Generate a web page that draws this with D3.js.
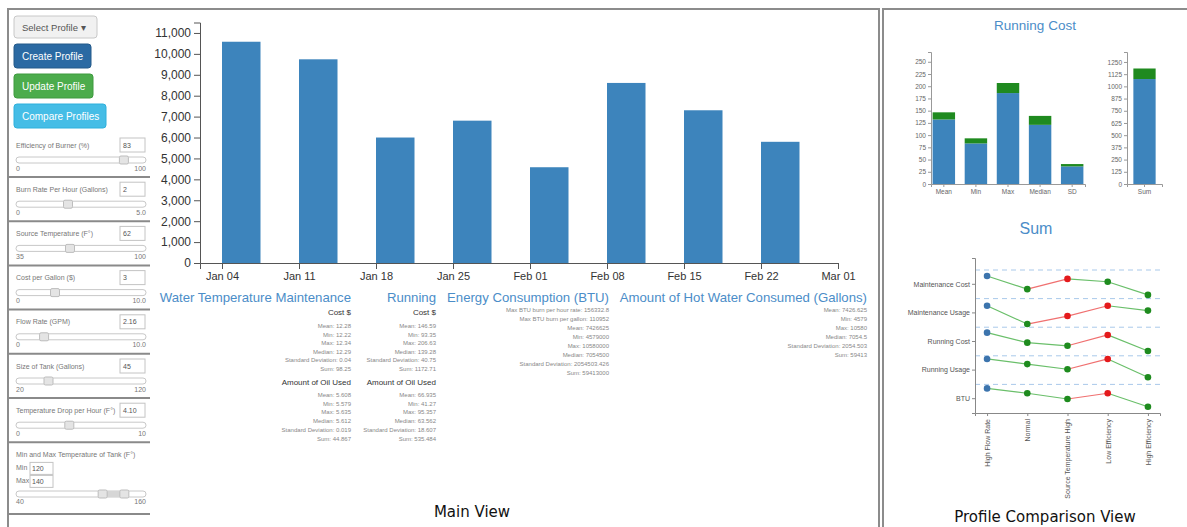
<!DOCTYPE html>
<html><head><meta charset="utf-8">
<script src="https://cdn.jsdelivr.net/npm/d3@7"></script>
<style>
body{margin:0;background:#fff;}
svg{display:block;font-family:"Liberation Sans",Arial,sans-serif;}
</style>
</head><body>
<svg id="c" width="1187" height="527"></svg>
<script>
// ---------- data ----------
const weeks = ["2015-01-04","2015-01-11","2015-01-18","2015-01-25","2015-02-01","2015-02-08","2015-02-15","2015-02-22"];
const hotWater = [10580, 9740, 6000, 6806, 4579, 8610, 7303, 5795];
const mainYTicks = [0,1000,2000,3000,4000,5000,6000,7000,8000,9000,10000,11000];

const statTitles = ["Water Temperature Maintenance","Running","Energy Consumption (BTU)","Amount of Hot Water Consumed (Gallons)"];
const waterCost = ["Mean: 12.28","Min: 12.22","Max: 12.34","Median: 12.29","Standard Deviation: 0.04","Sum: 98.25"];
const waterOil = ["Mean: 5.608","Min: 5.579","Max: 5.635","Median: 5.612","Standard Deviation: 0.019","Sum: 44.867"];
const runningCost = ["Mean: 146.59","Min: 93.35","Max: 206.63","Median: 139.28","Standard Deviation: 40.75","Sum: 1172.71"];
const runningOil = ["Mean: 66.935","Min: 41.27","Max: 95.357","Median: 63.562","Standard Deviation: 18.607","Sum: 535.484"];
const energyStats = ["Max BTU burn per hour rate: 156332.8","Max BTU burn per gallon: 110952","Mean: 7426625","Min: 4579000","Max: 10580000","Median: 7054500","Standard Deviation: 2054503.426","Sum: 59413000"];
const hotWaterStats = ["Mean: 7426.625","Min: 4579","Max: 10580","Median: 7054.5","Standard Deviation: 2054.503","Sum: 59413"];

const buttonLabels = ["Select Profile \u25BE","Create Profile","Update Profile","Compare Profiles"];
const sliderLabels = ["Efficiency of Burner (%)","Burn Rate Per Hour (Gallons)","Source Temperature (F\u00B0)","Cost per Gallon ($)","Flow Rate (GPM)","Size of Tank (Gallons)","Temperature Drop per Hour (F\u00B0)"];
const sliderValues = [83, 2, 62, 3, 2.16, 45, 4.10];
const sliderInputs = ["83","2","62","3","2.16","45","4.10"];
const sliderMin = [0, 0, 35, 0, 0, 20, 0];
const sliderMax = [100, 5, 100, 10, 10, 120, 10];
const sliderMinLabels = ["0","0","35","0","0","20","0"];
const sliderMaxLabels = ["100","5.0","100","10.0","10.0","120","10"];
const tankTemps = [120, 140];
const tankRange = [40, 160];

const costCats = ["Mean","Min","Max","Median","SD"];
const costBase = [132, 83, 186, 121, 36];
const costTop = [14.6, 10.4, 20.6, 18.3, 4.8];
const costTicks = [0,25,50,75,100,125,150,175,200,225,250];
const sumCats = ["Sum"];
const sumBase = [1075];
const sumTop = [108];
const sumTicks = [0,125,250,375,500,625,750,875,1000,1125,1250];

const profiles = ["High Flow Rate","Normal","Source Temperature High","Low Efficiency","High Efficiency"];
const metrics = ["Maintenance Cost","Maintenance Usage","Running Cost","Running Usage","BTU"];
const maintCostScore = [0.79, 0.33, 0.69, 0.59, 0.13];
const maintUsageScore = [0.75, 0.11, 0.39, 0.75, 0.58];
const runCostScore = [0.81, 0.46, 0.35, 0.73, 0.17];
const runUsageScore = [0.89, 0.71, 0.53, 0.89, 0.25];
const btuScore = [0.86, 0.69, 0.49, 0.69, 0.22];

// ---------- setup ----------
const svg = d3.select("#c");
const BLUE = "#3d84bc", GREEN = "#1f8a1f", TITLE = "#4b8dc8";

// frames
svg.append("path").attr("d","M8,527 L8,9 L879,9 L879,527").attr("fill","none").attr("stroke","#8c8c8c").attr("stroke-width",2);
svg.append("path").attr("d","M883,527 L883,9 L1187,9").attr("fill","none").attr("stroke","#8c8c8c").attr("stroke-width",2);

// ---------- left control panel ----------
const btnSpec = [
  {y:16, h:22, w:83, fill:"#f1f1f1", stroke:"#c8c8c8", text:"#555"},
  {y:44, h:24, w:77, fill:"#2b6aa3", stroke:"#245a8a", text:"#fff"},
  {y:74, h:24, w:79, fill:"#4cac4c", stroke:"#3e9a3e", text:"#fff"},
  {y:104, h:24, w:92, fill:"#45bde6", stroke:"#2fb0dc", text:"#fff"}
];
const btn = svg.append("g").selectAll("g").data(buttonLabels).join("g")
  .attr("transform",(d,i)=>`translate(14,${btnSpec[i].y})`);
btn.append("rect").attr("width",(d,i)=>btnSpec[i].w).attr("height",(d,i)=>btnSpec[i].h)
  .attr("rx",3).attr("fill",(d,i)=>btnSpec[i].fill).attr("stroke",(d,i)=>btnSpec[i].stroke);
btn.append("text").attr("x",8).attr("y",(d,i)=>btnSpec[i].h/2+3.5).attr("font-size",(d,i)=>i===0?9.5:10)
  .attr("fill",(d,i)=>btnSpec[i].text).text(d=>d);

const panel = svg.append("g").attr("font-size",7).attr("fill","#777");
sliderLabels.forEach((lab,i)=>{
  const L = 145 + i*44.2;
  const s = d3.scaleLinear().domain([sliderMin[i], sliderMax[i]]).range([16,146]);
  panel.append("text").attr("x",16).attr("y",L+2.5).text(lab);
  panel.append("rect").attr("x",120).attr("y",L-7).attr("width",25).attr("height",14).attr("fill","#fff").attr("stroke","#c4c4c4");
  panel.append("text").attr("x",123).attr("y",L+2.5).attr("fill","#555").text(sliderInputs[i]);
  panel.append("rect").attr("x",16).attr("y",L+12).attr("width",130).attr("height",6).attr("rx",3).attr("fill","#fff").attr("stroke","#c8c8c8");
  panel.append("rect").attr("x",s(sliderValues[i])-4.5).attr("y",L+11).attr("width",9).attr("height",8).attr("rx",1.5).attr("fill","#e4e4e4").attr("stroke","#bdbdbd");
  panel.append("text").attr("x",16).attr("y",L+25.5).text(sliderMinLabels[i]);
  panel.append("text").attr("x",146).attr("y",L+25.5).attr("text-anchor","end").text(sliderMaxLabels[i]);
  panel.append("line").attr("x1",8).attr("x2",150).attr("y1",L+32).attr("y2",L+32).attr("stroke","#8a8a8a").attr("stroke-width",2);
});
{
  const L = 454.4;
  const s = d3.scaleLinear().domain(tankRange).range([16,146]);
  panel.append("text").attr("x",16).attr("y",L+2.5).text("Min and Max Temperature of Tank (F\u00B0)");
  ["Min","Max"].forEach((t,j)=>{
    const yy = L + 8 + j*13;
    panel.append("text").attr("x",16).attr("y",yy+8).text(t);
    panel.append("rect").attr("x",30).attr("y",yy).attr("width",23).attr("height",12).attr("fill","#fff").attr("stroke","#c4c4c4");
    panel.append("text").attr("x",32).attr("y",yy+8.5).attr("fill","#555").text(tankTemps[j]);
  });
  const ty = 494;
  panel.append("rect").attr("x",16).attr("y",ty-3).attr("width",130).attr("height",6).attr("rx",3).attr("fill","#fff").attr("stroke","#c8c8c8");
  panel.append("rect").attr("x",s(tankTemps[0])).attr("y",ty-3).attr("width",s(tankTemps[1])-s(tankTemps[0])).attr("height",6).attr("fill","#d6d6d6");
  tankTemps.forEach(v=>{
    panel.append("rect").attr("x",s(v)-4.5).attr("y",ty-4).attr("width",9).attr("height",8).attr("rx",1.5).attr("fill","#e4e4e4").attr("stroke","#bdbdbd");
  });
  panel.append("text").attr("x",16).attr("y",503.5).text(tankRange[0]);
  panel.append("text").attr("x",146).attr("y",503.5).attr("text-anchor","end").text(tankRange[1]);
  panel.append("line").attr("x1",8).attr("x2",150).attr("y1",514).attr("y2",514).attr("stroke","#8a8a8a").attr("stroke-width",2);
}

// ---------- main bar chart ----------
const parse = d3.timeParse("%Y-%m-%d");
const dates = weeks.map(parse);
const x = d3.scaleTime().domain([parse("2015-01-02"), parse("2015-03-01")]).range([200, 838]);
const y = d3.scaleLinear().domain([0, 11500]).range([263, 22.5]);

svg.append("g").selectAll("rect").data(hotWater).join("rect")
  .attr("x",(d,i)=>x(dates[i]))
  .attr("width",(d,i)=>x(d3.timeHour.offset(dates[i],84)) - x(dates[i]))
  .attr("y",d=>y(d)).attr("height",d=>y(0)-y(d)).attr("fill",BLUE);

const gy = svg.append("g").attr("transform","translate(200,0)")
  .call(d3.axisLeft(y).tickValues(mainYTicks).tickFormat(d3.format(",")).tickSize(6).tickPadding(3));
gy.selectAll("text").attr("font-size",12).attr("fill","#333").attr("font-family","Liberation Sans, Arial, sans-serif");
const gx = svg.append("g").attr("transform","translate(0,263)")
  .call(d3.axisBottom(x).ticks(d3.timeWeek.every(1)).tickFormat(d3.timeFormat("%b %d")).tickSize(6).tickPadding(3));
gx.selectAll("text").attr("font-size",11).attr("fill","#333").attr("font-family","Liberation Sans, Arial, sans-serif");
[gx,gy].forEach(g=>{g.select(".domain").attr("stroke","#555"); g.selectAll(".tick line").attr("stroke","#555");});

// ---------- stats ----------
const colRight = [351, 436, 609, 867];
const stats = svg.append("g");
statTitles.forEach((t,i)=>{
  stats.append("text").attr("x",colRight[i]).attr("y",302).attr("text-anchor","end")
    .attr("font-size",13.2).attr("fill",TITLE).text(t);
});
function subHead(xr, yy, t){ stats.append("text").attr("x",xr).attr("y",yy).attr("text-anchor","end").attr("font-size",8).attr("fill","#333").text(t); }
function lines(xr, y0, step, arr){
  stats.append("g").selectAll("text").data(arr).join("text")
    .attr("x",xr).attr("y",(d,i)=>y0+i*step).attr("text-anchor","end")
    .attr("font-size",6).attr("fill","#888").text(d=>d);
}
subHead(colRight[0],315,"Cost $"); lines(colRight[0],328,8.6,waterCost);
subHead(colRight[0],385,"Amount of Oil Used"); lines(colRight[0],397,8.7,waterOil);
subHead(colRight[1],315,"Cost $"); lines(colRight[1],328,8.6,runningCost);
subHead(colRight[1],385,"Amount of Oil Used"); lines(colRight[1],397,8.7,runningOil);
lines(colRight[2],312,9,energyStats);
lines(colRight[3],312,9,hotWaterStats);

svg.append("text").attr("x",472).attr("y",517).attr("text-anchor","middle")
  .attr("font-family","DejaVu Sans, sans-serif").attr("font-size",15).attr("fill","#111").text("Main View");
svg.append("text").attr("x",1045).attr("y",522).attr("text-anchor","middle")
  .attr("font-family","DejaVu Sans, sans-serif").attr("font-size",15).attr("fill","#111").text("Profile Comparison View");

// ---------- right: Running Cost ----------
svg.append("text").attr("x",1035).attr("y",30).attr("text-anchor","middle").attr("font-size",13.5).attr("fill",TITLE).text("Running Cost");

function stacked(cats, base, top, ticks, yMax, x0, x1){
  const xb = d3.scaleBand().domain(cats).range([x0,x1]).paddingInner(0.3).paddingOuter(cats.length>1?0.05:0.2);
  const yb = d3.scaleLinear().domain([0,yMax]).range([184,52]);
  const g = svg.append("g");
  g.selectAll(".b").data(base).join("rect").attr("x",(d,i)=>xb(cats[i])).attr("width",xb.bandwidth())
    .attr("y",d=>yb(d)).attr("height",d=>yb(0)-yb(d)).attr("fill",BLUE);
  g.selectAll(".t").data(top).join("rect").attr("x",(d,i)=>xb(cats[i])).attr("width",xb.bandwidth())
    .attr("y",(d,i)=>yb(base[i]+d)).attr("height",(d,i)=>yb(base[i])-yb(base[i]+d)).attr("fill",GREEN);
  const ax = g.append("g").attr("transform",`translate(${x0},0)`).call(d3.axisLeft(yb).tickValues(ticks).tickFormat(d3.format("d")).tickSize(3).tickPadding(2));
  const bx = g.append("g").attr("transform","translate(0,184)").call(d3.axisBottom(xb).tickSize(3).tickPadding(2));
  [ax,bx].forEach(a=>{
    a.selectAll("text").attr("font-size",6.5).attr("fill","#666").attr("font-family","Liberation Sans, Arial, sans-serif");
    a.select(".domain").attr("stroke","#999"); a.selectAll(".tick line").attr("stroke","#999");
  });
}
stacked(costCats, costBase, costTop, costTicks, 270, 931, 1085);
stacked(sumCats, sumBase, sumTop, sumTicks, 1352, 1127, 1162);

// ---------- right: Sum comparison ----------
svg.append("text").attr("x",1036).attr("y",234).attr("text-anchor","middle").attr("font-size",16).attr("fill",TITLE).text("Sum");

const scores = [maintCostScore, maintUsageScore, runCostScore, runUsageScore, btuScore];
const yc = d3.scaleBand().domain(metrics).range([258,413]).paddingInner(0).paddingOuter(0.21).align(1);
const xc = d3.scalePoint().domain(profiles).range([975,1160]).padding(0.3);
const cg = svg.append("g");
metrics.forEach(m=>{
  cg.append("line").attr("x1",975).attr("x2",1160).attr("y1",yc(m)).attr("y2",yc(m))
    .attr("stroke","#a9c9ea").attr("stroke-width",1).attr("stroke-dasharray","5,4");
});
const cax = cg.append("g").attr("transform","translate(975,0)").call(d3.axisLeft(yc).tickSize(3).tickPadding(2));
const cbx = cg.append("g").attr("transform","translate(0,413)").call(d3.axisBottom(xc).tickSize(3));
cbx.selectAll("text").attr("transform","rotate(-90)").attr("text-anchor","end").attr("x",-6).attr("y",0).attr("dy","0.35em");
[cax,cbx].forEach(a=>{
  a.selectAll("text").attr("font-size",7).attr("fill","#555").attr("font-family","Liberation Sans, Arial, sans-serif");
  a.select(".domain").attr("stroke","#888"); a.selectAll(".tick line").attr("stroke","#888");
});
metrics.forEach((m,r)=>{
  const inner = d3.scaleLinear().domain([0,1]).range([yc(m)+yc.bandwidth(), yc(m)]);
  const vals = scores[r];
  const col = i => i===0 ? "#3c74ad" : (vals[i] > vals[i-1] ? "#e41a1c" : "#1e8b1e");
  const lcol = i => vals[i] > vals[i-1] ? "#f07070" : "#6abf6a";
  for(let i=1;i<vals.length;i++){
    cg.append("line").attr("x1",xc(profiles[i-1])).attr("y1",inner(vals[i-1]))
      .attr("x2",xc(profiles[i])).attr("y2",inner(vals[i])).attr("stroke",lcol(i)).attr("stroke-width",1.2);
  }
  cg.append("g").selectAll("circle").data(vals).join("circle")
    .attr("cx",(d,i)=>xc(profiles[i])).attr("cy",d=>inner(d)).attr("r",3.3).attr("fill",(d,i)=>col(i));
});
</script>
</body></html>
